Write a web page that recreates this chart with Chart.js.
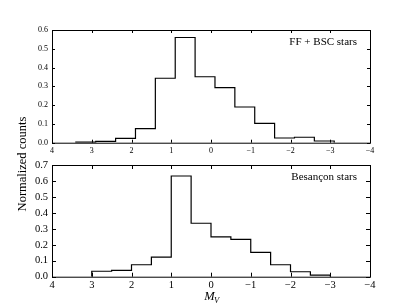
<!DOCTYPE html>
<html><head><meta charset="utf-8">
<script src="https://cdn.jsdelivr.net/npm/chart.js@4/dist/chart.umd.min.js"></script>
<style>
html,body{margin:0;padding:0;background:#fff;}
#wrap{position:relative;width:411px;height:308px;overflow:hidden;background:#fff;}
canvas{position:absolute;left:0;top:0;}
</style></head><body>
<div id="wrap">
<canvas id="c1" width="411" height="308"></canvas>
<canvas id="c2" width="411" height="308"></canvas>
</div>
<script>
// ---- data ----
const topLabel = "FF + BSC stars";
const topEdges = [3.4, 2.9, 2.4, 1.9, 1.4, 0.9, 0.4, -0.1, -0.6, -1.1, -1.6, -2.1, -2.6, -3.1];
const topCounts = [0.003, 0.007, 0.023, 0.075, 0.343, 0.560, 0.351, 0.293, 0.190, 0.103, 0.025, 0.029, 0.009];
const botLabel = "Besançon stars";
const botEdges = [3.0, 2.5, 2.0, 1.5, 1.0, 0.5, 0.0, -0.5, -1.0, -1.5, -2.0, -2.5, -3.0];
const botCounts = [0.034, 0.040, 0.075, 0.123, 0.631, 0.335, 0.249, 0.234, 0.153, 0.075, 0.031, 0.010];
const xTicks = [4, 3, 2, 1, 0, -1, -2, -3, -4];
const topYTicks = [0.0, 0.1, 0.2, 0.3, 0.4, 0.5, 0.6];
const botYTicks = [0.0, 0.1, 0.2, 0.3, 0.4, 0.5, 0.6, 0.7];
const yTitle = "Normalized counts";
const xTitleMain = "M";
const xTitleSub = "V";

function stepPoints(edges, counts) {
  const pts = [{x: edges[0], y: 0}];
  counts.forEach((c, i) => pts.push({x: edges[i], y: c}));
  pts.push({x: edges[edges.length - 1], y: 0});
  return pts;
}
const fmtX = v => (v < 0 ? '\u2212' + Math.abs(v) : String(v));
const SERIF = '"Liberation Serif", serif';

const framePlugin = {
  id: 'frame',
  afterDatasetsDraw(chart, args, o) {
    const {ctx, chartArea: a, scales: {x, y}} = chart;
    ctx.save();
    ctx.strokeStyle = '#000';
    ctx.lineWidth = 1;
    ctx.beginPath();
    const L = o.len;
    x.ticks.forEach(t => {
      const p = Math.round(x.getPixelForValue(t.value)) + 0.5;
      ctx.moveTo(p, a.bottom); ctx.lineTo(p, a.bottom - L);
      ctx.moveTo(p, a.top); ctx.lineTo(p, a.top + L);
    });
    y.ticks.forEach(t => {
      const p = Math.round(y.getPixelForValue(t.value)) + 0.5;
      ctx.moveTo(a.left, p); ctx.lineTo(a.left + L, p);
      ctx.moveTo(a.right, p); ctx.lineTo(a.right - L, p);
    });
    ctx.stroke();
    ctx.strokeRect(a.left + 0.5, a.top + 0.5, a.right - a.left, a.bottom - a.top);
    ctx.fillStyle = '#000';
    ctx.font = o.font;
    ctx.textAlign = 'right';
    ctx.textBaseline = 'middle';
    ctx.fillText(o.text, a.right - o.dx, a.top + o.dy);
    if (o.titles) {
      // shared y title, rotated
      ctx.save();
      ctx.translate(23, 164);
      ctx.rotate(-Math.PI / 2);
      ctx.textAlign = 'center';
      ctx.font = '12.5px ' + SERIF;
      ctx.fillText(yTitle, 0, 0);
      ctx.restore();
      // x title M_V
      ctx.font = 'italic 12.5px ' + SERIF;
      const wM = ctx.measureText(xTitleMain).width;
      ctx.font = 'italic 8.5px ' + SERIF;
      const wV = ctx.measureText(xTitleSub).width;
      const x0 = 212 - (wM + wV) / 2;
      ctx.textAlign = 'left';
      ctx.textBaseline = 'alphabetic';
      ctx.font = 'italic 12.5px ' + SERIF;
      ctx.fillText(xTitleMain, x0, 300);
      ctx.font = 'italic 8.5px ' + SERIF;
      ctx.fillText(xTitleSub, x0 + wM - 0.5, 302.5);
    }
    ctx.restore();
  }
};

function makeChart(id, edges, counts, yTicks, ymax, cfg) {
  return new Chart(document.getElementById(id), {
    type: 'line',
    data: {datasets: [{
      data: stepPoints(edges, counts),
      stepped: 'before',
      borderColor: '#000',
      borderWidth: 1.2,
      pointRadius: 0,
      fill: false,
      tension: 0
    }]},
    options: {
      responsive: false,
      animation: false,
      events: [],
      layout: {padding: {left: 0, right: 41, top: cfg.top, bottom: cfg.bottom}},
      plugins: {legend: {display: false}, tooltip: {enabled: false},
        frame: {len: cfg.len, text: cfg.text, font: cfg.annFont, dx: 13, dy: 12, titles: cfg.titles}},
      scales: {
        x: {
          type: 'linear', reverse: true, min: -4, max: 4,
          afterBuildTicks: s => { s.ticks = xTicks.map(v => ({value: v})); },
          afterFit: s => { s.height = cfg.xh; },
          grid: {display: false, drawTicks: false},
          border: {display: false},
          ticks: {color: '#000', font: {family: SERIF, size: cfg.tick}, padding: cfg.xpad, maxRotation: 0, autoSkip: false, callback: v => fmtX(v)}
        },
        y: {
          type: 'linear', min: 0, max: ymax,
          afterBuildTicks: s => { s.ticks = yTicks.map(v => ({value: v})); },
          afterFit: s => { s.width = 52; },
          grid: {display: false, drawTicks: false},
          border: {display: false},
          ticks: {color: '#000', font: {family: SERIF, size: cfg.tick}, padding: 4, autoSkip: false, callback: v => v.toFixed(1)}
        }
      }
    },
    plugins: [framePlugin]
  });
}

makeChart('c1', topEdges, topCounts, topYTicks, 0.6,
  {top: 30, bottom: 154, xh: 11.3, tick: 8, xpad: 3, len: 3, text: topLabel, annFont: '11px ' + SERIF, titles: false});
makeChart('c2', botEdges, botCounts, botYTicks, 0.7,
  {top: 165, bottom: 0, xh: 31.3, tick: 10.5, xpad: 2, len: 4, text: botLabel, annFont: '11px ' + SERIF, titles: true});
</script>
</body></html>
